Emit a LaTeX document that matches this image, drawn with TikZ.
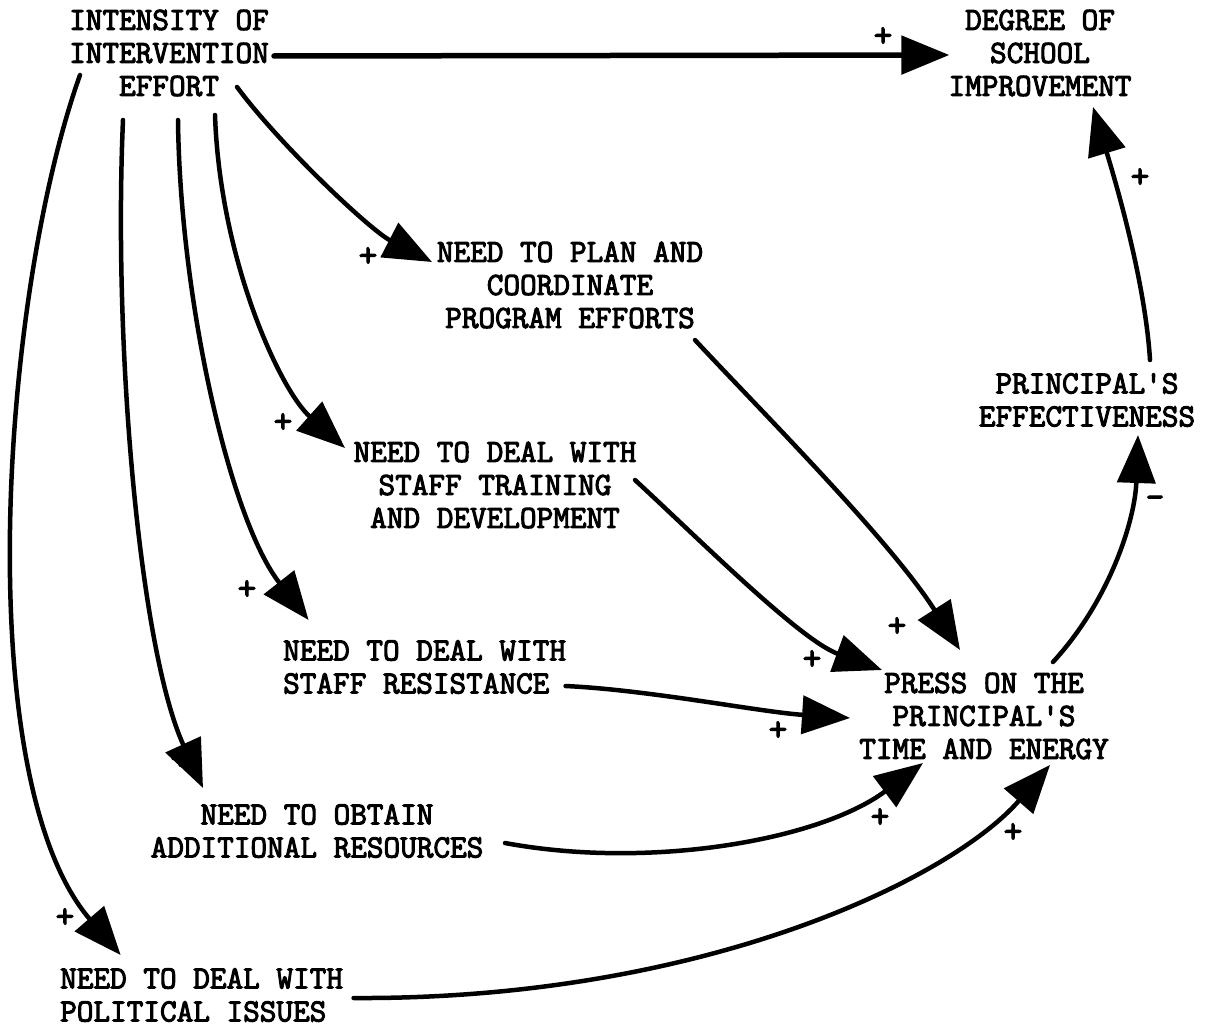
\documentclass[tikz,border=0pt]{standalone}
\usepackage{fontspec}
\setmonofont{Latin Modern Mono}[AutoFakeBold=3.2]
\usetikzlibrary{arrows.meta}
\begin{document}
\begin{tikzpicture}[x=1pt,y=-1pt,
  lbl/.style={font=\ttfamily\bfseries\fontsize{32.3}{33}\selectfont, inner sep=0pt, align=center},
  lbll/.style={lbl, align=left, anchor=west},
  sign/.style={font=\ttfamily\bfseries\fontsize{36}{36}\selectfont, inner sep=0pt},
  link/.style={line width=4.5pt, line cap=round, -{Triangle[length=48pt,width=38pt]}},
]
\useasboundingbox (0,0) rectangle (1207,1027);

% variables
\node[lbl] (intensity) at (169,53) {INTENSITY OF\\INTERVENTION\\EFFORT};
\node[lbl] (degree) at (1040,53) {DEGREE OF\\SCHOOL\\IMPROVEMENT};
\node[lbl] (plan) at (570,285) {NEED TO PLAN AND\\COORDINATE\\PROGRAM EFFORTS};
\node[lbl] (training) at (495,485) {NEED TO DEAL WITH\\STAFF TRAINING\\AND DEVELOPMENT};
\node[lbll] (resistance) at (283,667) {NEED TO DEAL WITH\\STAFF RESISTANCE};
\node[lbl] (resources) at (317,831) {NEED TO OBTAIN\\ADDITIONAL RESOURCES};
\node[lbll] (political) at (60,995) {NEED TO DEAL WITH\\POLITICAL ISSUES};
\node[lbl] (press) at (984,716) {PRESS ON THE\\PRINCIPAL'S\\TIME AND ENERGY};
\node[lbl] (effect) at (1087,400) {PRINCIPAL'S\\EFFECTIVENESS};

% causal links
\draw[link, line width=5.5pt] ([shift={(5,3)}]intensity.east) -- ([shift={(1,2)}]degree.west);
\draw[link] ([shift={(68,34)}]intensity.center) .. controls (280,145) and (370,230) .. ([shift={(-138,-23)}]plan.center);
\draw[link] ([shift={(46,62)}]intensity.center) .. controls (220,260) and (280,390) .. ([shift={(-150,-37)}]training.center);
\draw[link] ([shift={(9,67)}]intensity.center) .. controls (180,300) and (230,520) .. ([shift={(-116,-47)}]resistance.center);
\draw[link] ([shift={(-46,67)}]intensity.center) .. controls (113,350) and (140,650) .. ([shift={(-114,-43)}]resources.center);
\draw[link] ([shift={(-89,22)}]intensity.center) .. controls (0,300) and (-30,780) .. ([shift={(-81,-40)}]political.center);

\draw[link] ([shift={(125,55)}]plan.center) .. controls (760,410) and (890,540) .. ([shift={(-24,-66)}]press.center);
\draw[link] ([shift={(140,-5)}]training.center) .. controls (700,540) and (800,640) .. ([shift={(-102,-46)}]press.center);
\draw[link] ([shift={(141,19)}]resistance.center) .. controls (650,690) and (760,712) .. ([shift={(-134,2)}]press.center);
\draw[link] ([shift={(188,12)}]resources.center) .. controls (650,870) and (820,840) .. ([shift={(-61,47)}]press.center);
\draw[link] ([shift={(152,3)}]political.center) .. controls (700,1000) and (950,880) .. ([shift={(66,49)}]press.center);

\draw[link] ([shift={(69,-54)}]press.center) .. controls (1110,600) and (1135,520) .. ([shift={(51,35)}]effect.center);
\draw[link] ([shift={(63,-40)}]effect.center) .. controls (1145,280) and (1115,180) .. ([shift={(53,54)}]degree.center);

% polarity signs
\node[sign] (s1) at (883,37) {+};
\node[sign] (s2) at (1140,178) {+};
\node[sign] (s3) at (368,257) {+};
\node[sign] (s4) at (283,423) {+};
\node[sign] (s5) at (247,590) {+};
\node[sign] (s6) at (180,760) {+};
\node[sign] (s7) at (65,918) {+};
\node[sign] (s8) at (897,627) {+};
\node[sign] (s9) at (812,660) {+};
\node[sign] (s10) at (778,731) {+};
\node[sign] (s11) at (880,818) {+};
\node[sign] (s12) at (1013,833) {+};
\node[sign] (s13) at (1155,502) {-};
\end{tikzpicture}
\end{document}
